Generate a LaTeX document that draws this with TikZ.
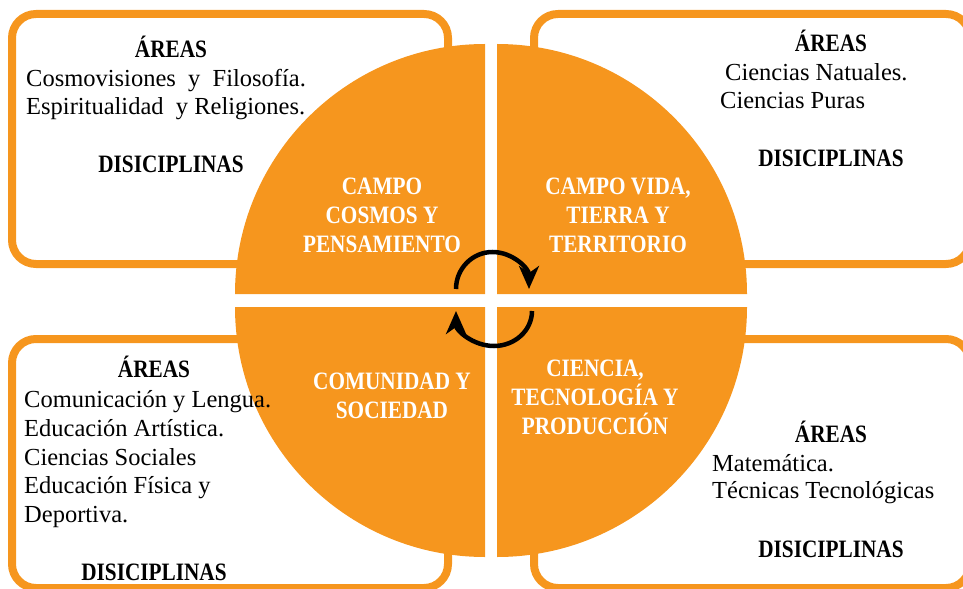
\documentclass[tikz,border=0pt]{standalone}
\usepackage{fontspec}
\setmainfont{Liberation Serif}
\newfontfamily\hfont{Liberation Serif}[FakeStretch=0.85]
\usetikzlibrary{arrows.meta}
\definecolor{org}{HTML}{F6961E}
\begin{document}
\begin{tikzpicture}[x=1bp,y=-1bp,
  box/.style={draw=org,line width=8bp,rounded corners=24bp},
  quad/.style={fill=org},
  lbl/.style={font=\hfont\bfseries\fontsize{25bp}{29bp}\selectfont,text=white,inner sep=0,anchor=base},
  hd/.style={font=\hfont\bfseries\fontsize{25bp}{28bp}\selectfont,inner sep=0,anchor=base},
  txt/.style={font=\fontsize{24.5bp}{29bp}\selectfont,inner sep=0,anchor=base west},
  cyc/.style={line width=4.5bp,-{Stealth[length=23bp,width=20bp,inset=7bp]}}]
\useasboundingbox (0,0) rectangle (963,589);
\clip (0,0) rectangle (963,589);
% boxes
\draw[box] (12,14) rectangle (448,264);
\draw[box] (534,14) rectangle (970,264);
\draw[box] (12,339) rectangle (448,588);
\draw[box] (534,339) rectangle (970,588);
% quadrants
\fill[quad] (485,294) -- (235,294) arc[start angle=180,end angle=270,radius=250] -- cycle;
\fill[quad] (497,294) -- (497,44) arc[start angle=270,end angle=360,radius=250] -- cycle;
\fill[quad] (497,307) -- (747,307) arc[start angle=0,end angle=90,radius=250] -- cycle;
\fill[quad] (485,307) -- (485,557) arc[start angle=90,end angle=180,radius=250] -- cycle;
% quadrant labels
\node[lbl] (q1a) at (382,195) {CAMPO};
\node[lbl] (q1b) at (382,224) {COSMOS Y};
\node[lbl] (q1c) at (382,253) {PENSAMIENTO};
\node[lbl] (q2a) at (618,195) {CAMPO VIDA,};
\node[lbl] (q2b) at (618,224) {TIERRA Y};
\node[lbl] (q2c) at (618,253) {TERRITORIO};
\node[lbl] (q3a) at (392,389) {COMUNIDAD Y};
\node[lbl] (q3b) at (392,418) {SOCIEDAD};
\node[lbl] (q4a) at (595,376) {CIENCIA,};
\node[lbl] (q4b) at (595,405) {TECNOLOGÍA Y};
\node[lbl] (q4c) at (595,434) {PRODUCCIÓN};
% top-left box
\node[hd] (a1) at (171,58) {ÁREAS};
\node[txt] (a1l1) at (26,87) {Cosmovisiones\ \ y\ \ Filosofía.};
\node[txt] (a1l2) at (26,115) {Espiritualidad\ \ y Religiones.};
\node[hd] (d1) at (171,173) {DISICIPLINAS};
% top-right box
\node[hd] (a2) at (831,52) {ÁREAS};
\node[txt] (a2l1) at (725,81) {Ciencias Natuales.};
\node[txt] (a2l2) at (720,109) {Ciencias Puras};
\node[hd] (d2) at (831,167) {DISICIPLINAS};
% bottom-left box
\node[hd] (a3) at (154,377) {ÁREAS};
\node[txt] (a3l1) at (24,407) {Comunicación y Lengua.};
\node[txt] (a3l2) at (24,436) {Educación Artística.};
\node[txt] (a3l3) at (24,465) {Ciencias Sociales};
\node[txt] (a3l4) at (24,493) {Educación Física y};
\node[txt] (a3l5) at (24,522) {Deportiva.};
\node[hd] (d3) at (154,580) {DISICIPLINAS};
% bottom-right box
\node[hd] (a4) at (831,442) {ÁREAS};
\node[txt] (a4l1) at (712,471) {Matemática.};
\node[txt] (a4l2) at (712,498) {Técnicas Tecnológicas};
\node[hd] (d4) at (831,557) {DISICIPLINAS};
% cycle arrows
\coordinate (c1s) at (456,289);
\coordinate (c2s) at (532,311);
\draw[cyc] (c1s) arc[start angle=180,end angle=360,x radius=36.5,y radius=37];
\draw[cyc] (c2s) arc[start angle=0,end angle=180,x radius=38,y radius=35];
\end{tikzpicture}
\end{document}
